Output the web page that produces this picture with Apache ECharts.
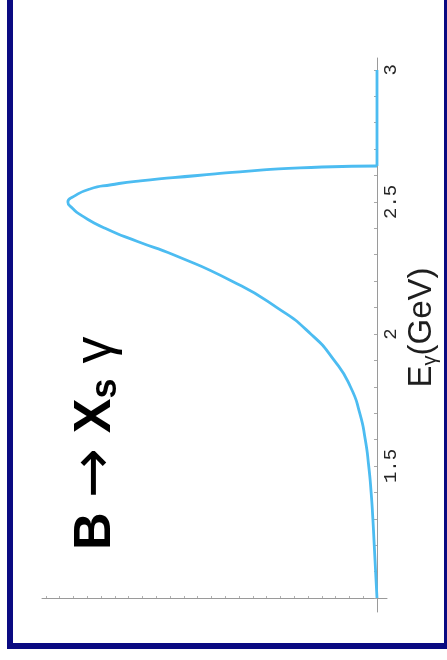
<!DOCTYPE html>
<html>
<head>
<meta charset="utf-8">
<script src="https://cdn.jsdelivr.net/npm/echarts@6/dist/echarts.min.js"></script>
<style>
  html, body { margin: 0; padding: 0; background: #fff; }
  #chart { position: absolute; left: 0; top: 0; width: 447px; height: 660px; }
  #frame { position: absolute; left: 7px; top: -10px; width: 443px; height: 659px;
           box-sizing: border-box; border: 6px solid #0a0a82; pointer-events: none; }
</style>
</head>
<body>
<div id="chart"></div>
<div id="frame"></div>
<script>
// Photon energy spectrum of B -> X_s gamma (E_gamma in GeV, rate in arbitrary units)
const photonEnergy = [1.00, 1.10, 1.20, 1.30, 1.40, 1.50, 1.60, 1.70, 1.80, 1.90,
                      2.00, 2.10, 2.20, 2.30, 2.35, 2.40, 2.45, 2.475, 2.50, 2.52,
                      2.549, 2.565, 2.58, 2.60, 2.614, 2.629, 2.636];
const rate        = [0.00, 0.02, 0.04, 0.06, 0.085, 0.12, 0.17, 0.25, 0.385, 0.62,
                     0.96, 1.45, 2.10, 2.95, 3.47, 3.94, 4.29, 4.41, 4.48, 4.40,
                     4.16, 3.85, 3.43, 2.60, 1.99, 1.12, 0.00];
// above the endpoint the spectrum is zero
const tailEnergy = [2.636, 3.00];
const tailRate   = [0.00, 0.00];

// axis ticks and labels
const energyTicks  = [1.0, 1.1, 1.2, 1.3, 1.4, 1.5, 1.6, 1.7, 1.8, 1.9, 2.0,
                      2.1, 2.2, 2.3, 2.4, 2.5, 2.6, 2.7, 2.8, 2.9, 3.0];
const energyLabels = [1.5, 2, 2.5, 3];
const rateTicks    = [0, 0.2, 0.4, 0.6, 0.8, 1.0, 1.2, 1.4, 1.6, 1.8, 2.0, 2.2, 2.4,
                      2.6, 2.8, 3.0, 3.2, 3.4, 3.6, 3.8, 4.0, 4.2, 4.4, 4.6, 4.8];

// axis ranges (the axes overshoot the origin slightly)
const energyMin = 0.947, energyMax = 3.045, energyOrigin = 1.0;
const rateMin = -0.145, rateMax = 4.855;

const lineColor = '#4cbcf1';
const axisColor = '#9a9a9a';
const sans = '"Liberation Sans", Arial, sans-serif';

const chart = echarts.init(document.getElementById('chart'), null, { renderer: 'canvas' });

chart.setOption({
  animation: false,
  backgroundColor: '#ffffff',
  grid: { left: 42, right: 60, top: 58, bottom: 48, outerBoundsMode: 'none' },
  xAxis: [{
    type: 'value',
    inverse: true,
    min: rateMin,
    max: rateMax,
    axisLine: { onZero: true, onZeroAxisIndex: 1, lineStyle: { color: axisColor, width: 1 } },
    axisTick: { show: true, customValues: rateTicks, length: 2, inside: true,
                lineStyle: { color: '#b0b0b0', width: 1 } },
    axisLabel: { show: false },
    splitLine: { show: false }
  }],
  yAxis: [{
    type: 'value',
    position: 'right',
    min: energyMin,
    max: energyMax,
    axisLine: { onZero: true, onZeroAxisIndex: 0, lineStyle: { color: axisColor, width: 1 } },
    axisTick: { show: true, customValues: energyTicks, length: 3, inside: true,
                lineStyle: { color: '#a8a8a8', width: 1 } },
    axisLabel: {
      customValues: energyLabels,
      rotate: 90,
      margin: -6,
      fontFamily: '"Liberation Mono", "DejaVu Sans Mono", monospace',
      fontSize: 19,
      color: '#262626'
    },
    splitLine: { show: false },
    name: '{e|E}{g|γ}{e|(GeV)}',
    nameLocation: 'middle',
    nameRotate: 90,
    nameGap: 17,
    nameMoveOverlap: false,
    nameTextStyle: {
      padding: [0, 0, 0, 15],
      rich: {
        e: { fontFamily: sans, fontSize: 33, color: '#1e1e1e', lineHeight: 36 },
        g: { fontFamily: sans, fontSize: 20, color: '#1e1e1e', verticalAlign: 'bottom', lineHeight: 14 }
      }
    }
  }, {
    // helper axis measured from the energy origin, used to seat the rate axis at E = 1 GeV
    type: 'value',
    show: false,
    position: 'left',
    min: energyMin - energyOrigin,
    max: energyMax - energyOrigin
  }],
  graphic: [{
    type: 'text',
    x: 124,
    y: 550,
    rotation: Math.PI / 2,
    style: {
      text: '{b|B }{a|→}{b| X}{s|s}{g| γ}',
      textAlign: 'left',
      textVerticalAlign: 'bottom',
      rich: {
        b: { fontFamily: sans, fontWeight: 'bold', fontSize: 52, fill: '#000', lineHeight: 56 },
        a: { fontFamily: '"DejaVu Sans", sans-serif', fontSize: 60, fill: '#000', lineHeight: 56 },
        s: { fontFamily: sans, fontWeight: 'bold', fontSize: 36, fill: '#000',
             verticalAlign: 'bottom', lineHeight: 16 },
        g: { fontFamily: sans, fontSize: 54, fill: '#000', lineHeight: 56 }
      }
    }
  }],
  series: [{
    type: 'line',
    xAxisIndex: 0,
    yAxisIndex: 0,
    data: photonEnergy.map((e, i) => [rate[i], e]),
    showSymbol: false,
    smooth: 0.6,
    lineStyle: { color: lineColor, width: 2.8 },
    z: 3
  }, {
    type: 'line',
    xAxisIndex: 0,
    yAxisIndex: 0,
    data: tailEnergy.map((e, i) => [tailRate[i], e]),
    showSymbol: false,
    lineStyle: { color: lineColor, width: 2.8 },
    z: 3
  }]
});
</script>
</body>
</html>
